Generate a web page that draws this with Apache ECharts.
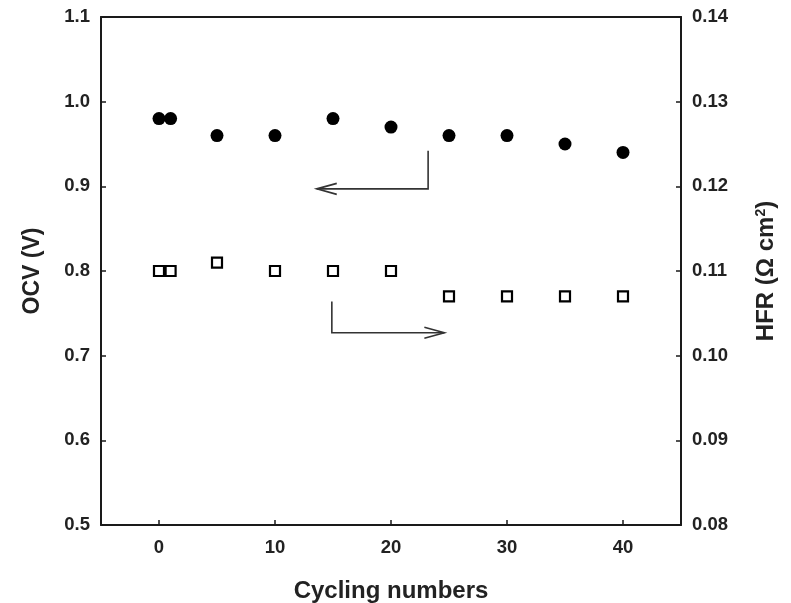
<!DOCTYPE html>
<html>
<head>
<meta charset="utf-8">
<script src="https://cdn.jsdelivr.net/npm/echarts@6/dist/echarts.min.js"></script>
<style>
  html, body { margin: 0; padding: 0; background: #fff; }
  #chart { width: 791px; height: 603px; }
</style>
</head>
<body>
<div id="chart"></div>
<script>
// Cycling test: open-circuit voltage and high-frequency resistance
const cycles = [0, 1, 5, 10, 15, 20, 25, 30, 35, 40];
const ocv = [0.98, 0.98, 0.96, 0.96, 0.98, 0.97, 0.96, 0.96, 0.95, 0.94];
const hfr = [0.110, 0.110, 0.111, 0.110, 0.110, 0.110, 0.107, 0.107, 0.107, 0.107];
const xTicks = [0, 10, 20, 30, 40];

// Bent arrows pointing each series to its axis (in cycle / OCV units)
const arrowToOcv = [[23.2, 0.942], [23.2, 0.897], [13.6, 0.897]];
const arrowToHfr = [[14.9, 0.764], [14.9, 0.727], [24.6, 0.727]];

const ink = '#1a1a1a';
const family = 'Liberation Sans, Arial, sans-serif';
const labelFont = { fontFamily: family, fontWeight: 'bold', fontSize: 18.5, color: '#222' };
const titleFont = { fontFamily: family, fontWeight: 'bold', fontSize: 23, color: '#222' };

const chart = echarts.init(document.getElementById('chart'), null, { renderer: 'canvas' });

function arrowItem(params, api) {
  const pts = (params.seriesIndex === 2 ? arrowToOcv : arrowToHfr).map(p => api.coord(p));
  const tip = pts[pts.length - 1];
  const prev = pts[pts.length - 2];
  const dir = Math.sign(tip[0] - prev[0]);
  const len = 20, half = 5.5;
  const head = [[tip[0] - dir * len, tip[1] - half], tip, [tip[0] - dir * len, tip[1] + half]];
  const style = { stroke: '#333', lineWidth: 1.6, fill: null };
  return {
    type: 'group',
    children: [
      { type: 'polyline', shape: { points: pts }, style },
      { type: 'polyline', shape: { points: head }, style }
    ]
  };
}

chart.setOption({
  animation: false,
  grid: { left: 101, right: 110, top: 17, bottom: 78, containLabel: false, outerBoundsMode: 'none' },
  xAxis: [
    {
      type: 'value', min: -5, max: 45, position: 'bottom',
      name: 'Cycling numbers', nameLocation: 'middle', nameGap: 54,
      nameTextStyle: Object.assign({}, titleFont, { fontSize: 24 }),
      axisLine: { show: true, onZero: false, lineStyle: { color: ink, width: 2 } },
      axisTick: { show: true, inside: true, length: 5, customValues: xTicks, lineStyle: { color: ink, width: 1.5 } },
      axisLabel: Object.assign({ margin: 13, customValues: xTicks }, labelFont),
      splitLine: { show: false }
    },
    {
      type: 'value', min: -5, max: 45, position: 'top',
      axisLine: { show: true, onZero: false, lineStyle: { color: ink, width: 2 } },
      axisTick: { show: false }, axisLabel: { show: false }, splitLine: { show: false }
    }
  ],
  yAxis: [
    {
      type: 'value', min: 0.5, max: 1.1, interval: 0.1, position: 'left',
      name: 'OCV (V)', nameLocation: 'middle', nameGap: 57,
      nameTextStyle: titleFont,
      axisLine: { show: true, onZero: false, lineStyle: { color: ink, width: 2 } },
      axisTick: { show: true, inside: true, length: 5, lineStyle: { color: ink, width: 1.5 } },
      axisLabel: Object.assign({ margin: 11, formatter: v => v.toFixed(1) }, labelFont),
      splitLine: { show: false }
    },
    {
      type: 'value', min: 0.08, max: 0.14, interval: 0.01, position: 'right',
      name: 'HFR (\u03A9 cm{sup|2})', nameLocation: 'middle', nameGap: 73, nameRotate: 90,
      nameTextStyle: Object.assign({
        rich: { sup: { fontFamily: family, fontWeight: 'bold', fontSize: 14, color: '#222', verticalAlign: 'top', padding: [0, 0, 10, 0] } }
      }, titleFont, { fontSize: 24 }),
      axisLine: { show: true, onZero: false, lineStyle: { color: ink, width: 2 } },
      axisTick: { show: true, inside: true, length: 5, lineStyle: { color: ink, width: 1.5 } },
      axisLabel: Object.assign({ margin: 11, formatter: v => v.toFixed(2) }, labelFont),
      splitLine: { show: false }
    }
  ],
  series: [
    {
      name: 'OCV', type: 'scatter', xAxisIndex: 0, yAxisIndex: 0,
      symbol: 'circle', symbolSize: 13,
      itemStyle: { color: '#000', opacity: 1 },
      data: cycles.map((c, i) => [c, ocv[i]])
    },
    {
      name: 'HFR', type: 'scatter', xAxisIndex: 0, yAxisIndex: 1,
      symbol: 'rect', symbolSize: 10,
      itemStyle: { color: '#fff', borderColor: '#000', borderWidth: 2.2, opacity: 1 },
      data: cycles.map((c, i) => [c, hfr[i]])
    },
    {
      type: 'custom', xAxisIndex: 0, yAxisIndex: 0, silent: true,
      renderItem: arrowItem, data: [[0, 0]]
    },
    {
      type: 'custom', xAxisIndex: 0, yAxisIndex: 0, silent: true,
      renderItem: arrowItem, data: [[0, 0]]
    }
  ]
});
</script>
</body>
</html>
